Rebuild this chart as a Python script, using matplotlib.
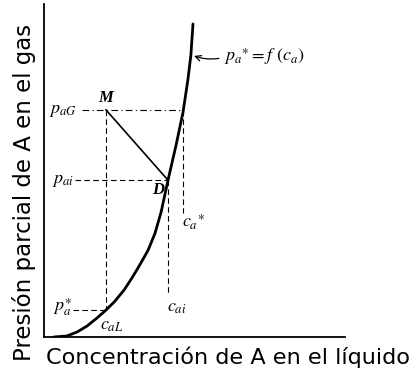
import numpy as np
import matplotlib
matplotlib.use('Agg')
import matplotlib.pyplot as plt

plt.rcParams['mathtext.fontset'] = 'stix'

# curva de equilibrio p_a* = f(c_a), leida punto a punto
curva_c = [0.33, 0.76, 1.10, 1.43, 1.76, 2.06, 2.33, 2.66, 2.92, 3.16,
           3.46, 3.69, 3.89, 4.12, 4.39, 4.62, 4.78, 4.88, 4.95]
curva_p = [0.00, 0.03, 0.15, 0.33, 0.57, 0.81, 1.05, 1.41, 1.77, 2.13,
           2.61, 3.12, 3.75, 4.71, 5.77, 6.76, 7.72, 8.47, 9.40]

# punto M (seno del gas/liquido) y punto D (interfase)
c_aL, p_aG = 2.06, 6.82
c_ai, p_ai = 4.12, 4.71
c_a_star = 4.62
p_a_star = 0.81

serif = dict(family='Liberation Serif', style='italic')

fig = plt.figure(figsize=(4.15, 3.75), dpi=100)
ax = fig.add_axes([44 / 415, 38 / 375, 301 / 415, 333 / 375])
ax.set_xlim(0, 10)
ax.set_ylim(0, 10)
ax.set_xticks([])
ax.set_yticks([])
for s in ['top', 'right']:
    ax.spines[s].set_visible(False)
for s in ['left', 'bottom']:
    ax.spines[s].set_linewidth(1.3)

ax.plot(curva_c, curva_p, color='black', lw=2.0, solid_capstyle='round',
        solid_joinstyle='round')

# linea M-D
ax.plot([c_aL, c_ai], [p_aG, p_ai], color='black', lw=1.2)

dash = dict(color='black', lw=0.8, dashes=(5, 3))
ax.plot([1.26, c_a_star], [p_aG, p_aG], color='black', lw=0.8, dashes=(6, 3, 1, 3))
ax.plot([c_aL, c_aL], [p_aG, p_a_star], **dash)
ax.plot([1.03, c_ai], [p_ai, p_ai], **dash)
ax.plot([c_ai, c_ai], [p_ai, 1.26], **dash)
ax.plot([c_a_star, c_a_star], [p_aG, 3.72], **dash)
ax.plot([0.97, c_aL], [p_a_star, p_a_star], **dash)

ax.text(c_aL, 6.95, 'M', fontsize=12, fontweight='bold', ha='center', va='bottom', **serif)
ax.text(3.80, 4.40, 'D', fontsize=12, fontweight='bold', ha='center', va='center', **serif)
ax.text(0.62, p_aG, r'$p_{aG}$', fontsize=13, ha='center', va='center')
ax.text(0.62, p_ai, r'$p_{ai}$', fontsize=13, ha='center', va='center')
ax.text(0.62, 0.90, r'$p_a^{\ast}$', fontsize=13, ha='center', va='center')
ax.text(4.58, 3.45, r'$c_a{}^{\ast}$', fontsize=13, ha='left', va='center')
ax.text(4.09, 0.90, r'$c_{ai}$', fontsize=13, ha='left', va='center')
ax.text(1.86, 0.36, r'$c_{aL}$', fontsize=13, ha='left', va='center')

ax.annotate('', xy=(4.90, 8.47), xytext=(5.90, 8.38),
            arrowprops=dict(arrowstyle='->', color='black', lw=0.9,
                            connectionstyle='arc3,rad=-0.15'))
ax.text(5.98, 8.42, r'$p_a{}^{\ast} = f\ (c_a)$', fontsize=13, ha='left', va='center')

fig.text(228 / 415, 1 - 357 / 375, 'Concentración de A en el líquido',
         fontsize=16.1, ha='center', va='center', family='DejaVu Sans')
fig.text(24 / 415, 1 - 192 / 375, 'Presión parcial de A en el gas',
         fontsize=16.5, ha='center', va='center', rotation=90, family='DejaVu Sans')

fig.savefig('out.png', dpi=100)
